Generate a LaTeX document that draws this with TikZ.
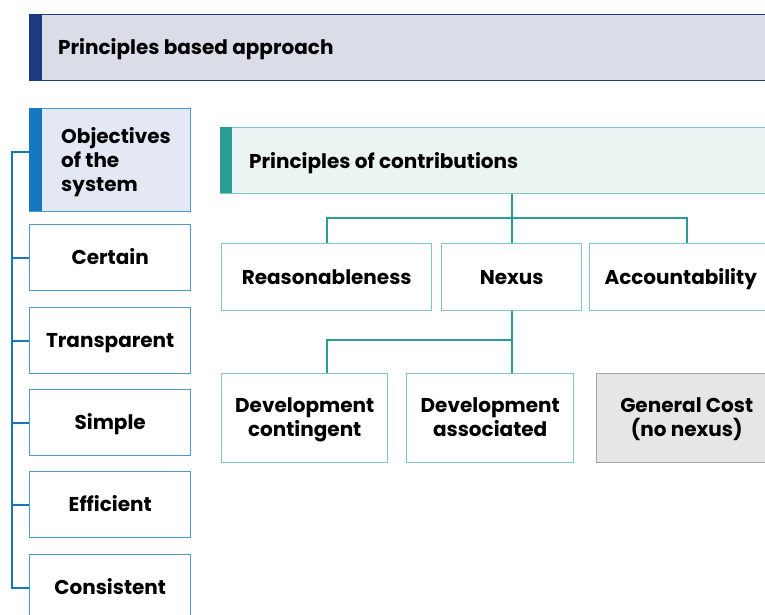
\documentclass[tikz,border=0pt]{standalone}
\usepackage{fontspec}
\setmainfont{Poppins}
\definecolor{navy}{HTML}{1B3A82}
\definecolor{navyfill}{HTML}{DADCE8}
\definecolor{skybar}{HTML}{1577BD}
\definecolor{skyline}{HTML}{4E9BD3}
\definecolor{skyfill}{HTML}{E4E8F4}
\definecolor{teal}{HTML}{2A9D94}
\definecolor{tealline}{HTML}{7CC8C2}
\definecolor{tealfill}{HTML}{EAF5F3}
\definecolor{greyfill}{HTML}{E6E6E6}
\definecolor{greyline}{HTML}{A5A5A5}
\tikzset{
  lbltext/.style={font=\fontsize{20}{24}\selectfont\bfseries, text=black, align=center, inner sep=0pt},
  lbl/.style={lbltext, text height=15pt, text depth=1pt},
  objbox/.style={draw=skyline, line width=1.4pt, fill=white, anchor=north west, minimum width=161pt, minimum height=66pt, inner sep=0pt},
  treebox/.style={draw=tealline, line width=1.4pt, fill=white, anchor=north west, minimum height=67pt, inner sep=0pt},
  greybox/.style={draw=greyline, line width=1.4pt, fill=greyfill, anchor=north west, inner sep=0pt},
  bluelink/.style={draw=skybar, line width=1.8pt},
  teallink/.style={draw=teal, line width=2.2pt},
}
\begin{document}
\begin{tikzpicture}[x=1pt,y=-1pt]
\useasboundingbox (0,0) rectangle (765,615);
\clip (0,0) rectangle (765,615);

% top banner
\node[draw=navy, line width=1.4pt, fill=navyfill, anchor=north west, minimum width=790pt, minimum height=66pt, inner sep=0pt] (pba) at (29,14) {};
\fill[navy] (29,14) rectangle (42,80);
\node[lbl, anchor=west] (pbatxt) at (58,48) {Principles based approach};

% objectives column
\node[draw=skyline, line width=1.4pt, fill=skyfill, anchor=north west, minimum width=161pt, minimum height=103pt, inner sep=0pt] (obj) at (29,108) {};
\fill[skybar] (29,108) rectangle (42,211);
\node[lbltext, anchor=west, align=left] (objtxt) at (61,162) {Objectives\\of the\\system};

\node[objbox] (cert) at (29,224) {};
\node[lbl] at (cert.center) {Certain};
\node[objbox] (transp) at (29,307) {};
\node[lbl] at (transp.center) {Transparent};
\node[objbox] (simp) at (29,389) {};
\node[lbl] at (simp.center) {Simple};
\node[objbox] (eff) at (29,471) {};
\node[lbl] at (eff.center) {Efficient};
\node[objbox] (cons) at (29,554) {};
\node[lbl] at (cons.center) {Consistent};

\coordinate (spine) at (12,152);
\draw[bluelink] ([yshift=8pt]obj.west) -| (spine |- cons.west) -- (cons.west);
\foreach \b in {cert,transp,simp,eff}
  \draw[bluelink] (spine |- \b.west) -- (\b.west);

% principles of contributions
\node[draw=tealline, line width=1.4pt, fill=tealfill, anchor=north west, minimum width=600pt, minimum height=66pt, inner sep=0pt] (poc) at (220,127) {};
\fill[teal] (220,127) rectangle (232,193);
\node[lbl, anchor=west] (poctxt) at (249,161) {Principles of contributions};

\node[treebox, minimum width=210pt] (reas) at (221,243) {};
\node[lbl] at (reas.center) {Reasonableness};
\node[treebox, minimum width=140pt] (nexus) at (441,243) {};
\node[lbl] at (nexus.center) {Nexus};
\node[treebox, minimum width=194pt] (acc) at (589,243) {};
\node[lbl] at ([xshift=-6pt]acc.center) {Accountability};

\node[treebox, minimum width=166pt, minimum height=89pt] (dcont) at (221,373) {};
\node[lbltext] at ([yshift=-1.5pt]dcont.center) {Development\\contingent\vphantom{gy()}};
\node[treebox, minimum width=167pt, minimum height=89pt] (dassoc) at (406,373) {};
\node[lbltext] at ([yshift=-1.5pt]dassoc.center) {Development\\associated\vphantom{gy()}};
\node[greybox, minimum width=180pt, minimum height=89pt] (gen) at (596,373) {};
\node[lbltext] at ([yshift=-1.5pt]gen.center) {General Cost\\(no nexus)\vphantom{gy()}};

% tree links
\coordinate (j1) at (511,218);
\draw[teallink] (nexus.north |- poc.south) -- (nexus.north);
\draw[teallink] (reas.north) |- (j1) -| (acc.north);
\coordinate (j2) at (511,340);
\draw[teallink] (nexus.south) -- (nexus.south |- dassoc.north);
\draw[teallink] (j2) -| (reas.south |- dcont.north);
\end{tikzpicture}
\end{document}
